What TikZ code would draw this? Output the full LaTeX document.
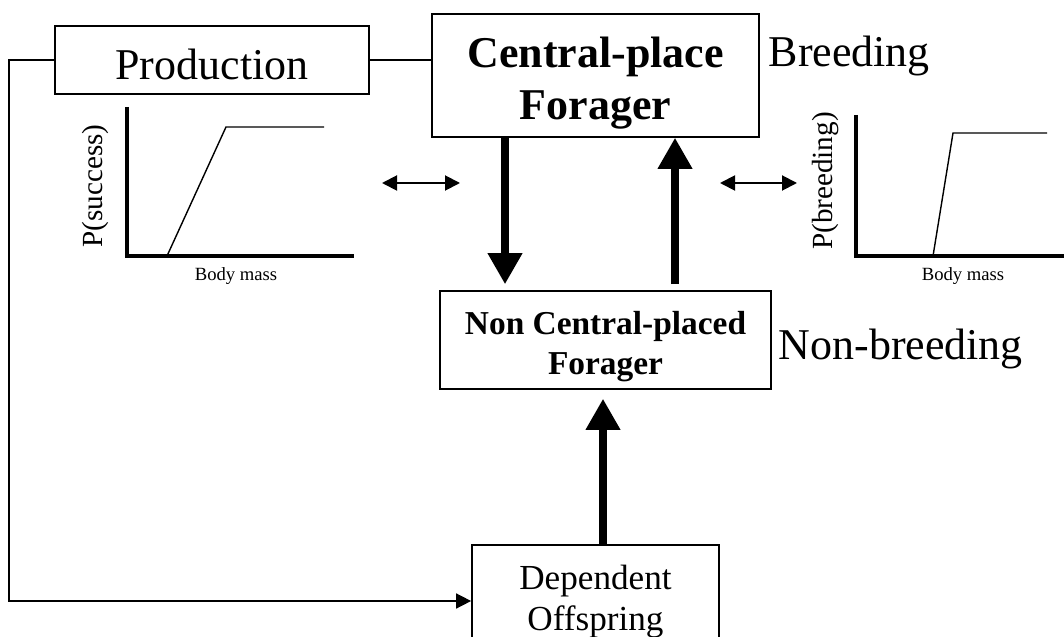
\documentclass[tikz,border=0pt]{standalone}
\usepackage{fontspec}
\setmainfont{Liberation Serif}
\usetikzlibrary{arrows.meta}

\begin{document}
\begin{tikzpicture}[x=0.01cm, y=-0.01cm,
        box/.style={draw, line width=0.45pt, inner sep=0pt, align=center},
        bigarrow/.style={line width=2pt, -{Triangle[length=0.31cm, width=0.33cm]}},
        twoway/.style={line width=0.55pt, {Triangle[length=0.15cm, width=0.15cm]}-{Triangle[length=0.15cm, width=0.15cm]}},
        axis/.style={line width=1.15pt, line join=miter},
        curve/.style={line width=0.4pt},
        big/.style={font=\fontsize{12.5}{15}\selectfont}]
    \useasboundingbox (0,0) rectangle (1064,637);
    \clip (0,0) rectangle (1064,637);
    % boxes
    \node[box, big, text height=11pt, text depth=0pt, minimum width=3.14cm, minimum height=0.68cm] (prod) at (212,60) {Production};
    \node[box, font=\bfseries\fontsize{12.5}{15}\selectfont, text height=28pt, text depth=2.7pt, minimum width=3.27cm, minimum height=1.23cm] (cpf) at (595.5,75.5) {Central-place\\Forager};
    \node[box, font=\bfseries\fontsize{9.5}{11.4}\selectfont, text height=22pt, text depth=2.1pt, minimum width=3.31cm, minimum height=0.98cm] (ncpf) at (605.5,340) {Non Central-placed\\Forager};
    \node[box, font=\fontsize{10}{11.4}\selectfont, text height=18.7pt, text depth=2.2pt, minimum width=2.47cm, minimum height=1.12cm] (dep) at (595.5,601) {Dependent\\Offspring};
    \node[big, anchor=base west, inner sep=0pt] (breed) at (768,67) {Breeding};
    \node[big, anchor=base west, inner sep=0pt] (nonbreed) at (778,360) {Non-breeding};
    % thick arrows
    \coordinate (dn) at (505,0);
    \coordinate (up) at (675,0);
    \coordinate (off) at (603,0);
    \draw[bigarrow, shorten >=0.06cm] (cpf.south -| dn) -- (ncpf.north -| dn);
    \draw[bigarrow, shorten <=0.06cm] (ncpf.north -| up) -- (cpf.south -| up);
    \draw[bigarrow, shorten >=0.09cm] (dep.north -| off) -- (ncpf.south -| off);
    % production links
    \coordinate (corner) at (9,60);
    \draw[line width=0.45pt] (prod.east) -- (prod.east -| cpf.west);
    \draw[line width=0.45pt, -{Triangle[length=0.15cm, width=0.15cm]}] (prod.west) -- (corner) |- (dep.west);
    % left graph
    \draw[axis] (127,107) -- (127,256) -- (354,256);
    \draw[curve] (167,256) -- (226,127) -- (324,127);
    \node[rotate=90, font=\fontsize{8.3}{10}\selectfont] (psucc) at (95,186) {P(success)};
    \node[font=\fontsize{5.3}{6}\selectfont] (mass1) at (236,276) {Body mass};
    % right graph
    \draw[axis] (856,115) -- (856,256) -- (1070,256);
    \draw[curve] (933,256) -- (953,133) -- (1047,133);
    \node[rotate=90, font=\fontsize{8.3}{10}\selectfont] (pbreed) at (826,181) {P(breeding)};
    \node[font=\fontsize{5.3}{6}\selectfont] (mass2) at (963,276) {Body mass};
    % two-way arrows
    \coordinate (la) at (382,183);
    \coordinate (lb) at (460,183);
    \coordinate (ra) at (720,183);
    \coordinate (rb) at (797,183);
    \draw[twoway] (la) -- (lb);
    \draw[twoway] (ra) -- (rb);
\end{tikzpicture}
\end{document}
